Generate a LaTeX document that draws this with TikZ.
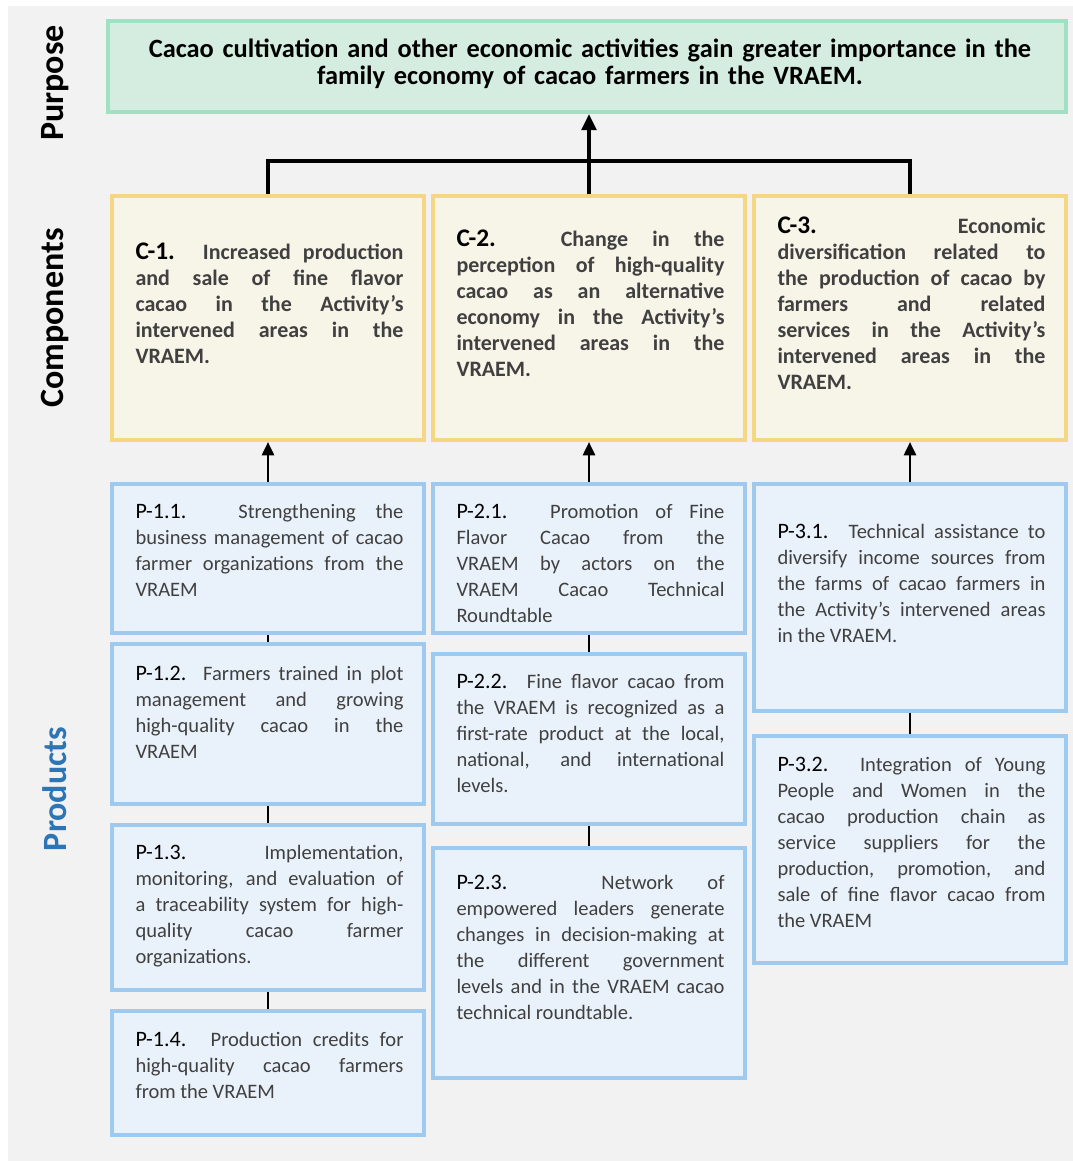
\documentclass[tikz,border=0pt]{standalone}
\usepackage{fontspec}
\setmainfont{Carlito}
\usepackage{tikz}
\usetikzlibrary{fit,arrows.meta}
\definecolor{bggray}{HTML}{F2F2F2}
\definecolor{purposefill}{HTML}{D5EDE0}
\definecolor{purposeline}{HTML}{A0E0C3}
\definecolor{compfill}{HTML}{F7F4E8}
\definecolor{compline}{HTML}{F5D783}
\definecolor{prodfill}{HTML}{E9F1FA}
\definecolor{prodline}{HTML}{9DCAEE}
\definecolor{bodygray}{HTML}{404040}
\definecolor{prodblue}{HTML}{2E75B6}
\tolerance=10000
\hyphenpenalty=10000
\newcommand{\tightspace}{\spaceskip=0.22em plus 0.8em minus 0.1em\relax}
\tikzset{every picture/.style={line width=0.75pt}}
\tikzset{
  purposebox/.style={draw=purposeline,fill=purposefill,line width=3pt,inner sep=0pt},
  compbox/.style={draw=compline,fill=compfill,line width=3pt,inner sep=0pt},
  prodbox/.style={draw=prodline,fill=prodfill,line width=3pt,inner sep=0pt},
  boxtext/.style={anchor=base west,inner sep=0pt,text width=201pt,align=justify,text=bodygray},
  comptext/.style={boxtext,font=\bfseries\fontsize{16.5}{19.5}\selectfont},
  prodtext/.style={boxtext,font=\fontsize{15.4}{19.5}\selectfont},
  sidelabel/.style={rotate=90,inner sep=0pt,font=\bfseries\fontsize{25.5}{30}\selectfont},
  link/.style={line width=2pt},
  uparrow/.style={line width=2pt,-{Triangle[length=10pt,width=9pt]}},
}
\newcommand{\clbl}[1]{\tightspace\textcolor{black}{\fontsize{19}{19.5}\selectfont #1}}
\newcommand{\plbl}[1]{\tightspace\textcolor{black}{\fontsize{16.5}{19.5}\selectfont #1}}

\begin{document}
\begin{tikzpicture}[x=0.75pt,y=0.75pt,yscale=-1,xscale=1]
\useasboundingbox (0,0) rectangle (1073,1161);
\fill [bggray] (8,6) rectangle (1073,1161);

% Side labels
\node [sidelabel] (lblpur) at (55,83) {Purpose};
\node [sidelabel] (lblcomp) at (55,318) {Components};
\node [sidelabel,text=prodblue] (lblprod) at (55,789) {Products};

%Shape: Rectangle (purpose)
\node [purposebox,fit={(108,21) (1066,112)}] (pur) {};
% Text Node
\node [anchor=base,inner sep=0pt,text width=700pt,align=center,font=\bfseries\fontsize{19.8}{20.25}\selectfont] (purtxt) at (590,57) {Cacao cultivation and other economic activities gain greater importance in the\\family economy of cacao farmers in the VRAEM.};

%Shape: Rectangle (components)
\node [compbox,fit={(112,196) (424,440)}] (c1) {};
\node [compbox,fit={(433,196) (745,440)}] (c2) {};
\node [compbox,fit={(754,196) (1066,440)}] (c3) {};
% Text Node
\node [comptext] (c1txt) at (135,259) {\clbl{C-1.} Increased production\linebreak and sale of fine flavor\linebreak cacao in the Activity’s\linebreak intervened areas in the\linebreak VRAEM.};
% Text Node
\node [comptext] (c2txt) at (456,246) {\clbl{C-2.} Change in the\linebreak perception of high-quality\linebreak cacao as an alternative\linebreak economy in the Activity’s\linebreak intervened areas in the\linebreak VRAEM.};
% Text Node
\node [comptext] (c3txt) at (777,233) {\clbl{C-3.} Economic\linebreak diversification related to\linebreak the production of cacao by\linebreak farmers and related\linebreak services in the Activity’s\linebreak intervened areas in the\linebreak VRAEM.};

%Shape: Rectangle (products, column 1)
\node [prodbox,fit={(112,484) (424,633)}] (p11) {};
\node [prodbox,fit={(112,644) (424,804)}] (p12) {};
\node [prodbox,fit={(112,825) (424,990)}] (p13) {};
\node [prodbox,fit={(112,1011) (424,1135)}] (p14) {};
%Shape: Rectangle (products, column 2)
\node [prodbox,fit={(433,484) (745,633)}] (p21) {};
\node [prodbox,fit={(433,654) (745,824)}] (p22) {};
\node [prodbox,fit={(433,848) (745,1078)}] (p23) {};
%Shape: Rectangle (products, column 3)
\node [prodbox,fit={(754,484) (1066,711)}] (p31) {};
\node [prodbox,fit={(754,736) (1066,963)}] (p32) {};

% Text Node
\node [prodtext] (p11txt) at (135,518) {\plbl{P-1.1.} Strengthening the\linebreak business management of cacao\linebreak farmer organizations from the\linebreak VRAEM};
% Text Node
\node [prodtext] (p12txt) at (135,680) {\plbl{P-1.2.} Farmers trained in plot\linebreak management and growing\linebreak high-quality cacao in the\linebreak VRAEM};
% Text Node
\node [prodtext] (p13txt) at (135,859) {\plbl{P-1.3.} Implementation,\linebreak monitoring, and evaluation of\linebreak a traceability system for high-\linebreak quality cacao farmer\linebreak organizations.};
% Text Node
\node [prodtext] (p14txt) at (135,1046) {\plbl{P-1.4.} Production credits for\linebreak high-quality cacao farmers\linebreak from the VRAEM};
% Text Node
\node [prodtext] (p21txt) at (456,518) {\plbl{P-2.1.} Promotion of Fine\linebreak Flavor Cacao from the\linebreak VRAEM by actors on the\linebreak VRAEM Cacao Technical\linebreak Roundtable};
% Text Node
\node [prodtext] (p22txt) at (456,688) {\plbl{P-2.2.} Fine flavor cacao from\linebreak the VRAEM is recognized as a\linebreak first-rate product at the local,\linebreak national, and international\linebreak levels.};
% Text Node
\node [prodtext] (p23txt) at (456,889) {\plbl{P-2.3.} Network of\linebreak empowered leaders generate\linebreak changes in decision-making at\linebreak the different government\linebreak levels and in the VRAEM cacao\linebreak technical roundtable.};
% Text Node
\node [prodtext] (p31txt) at (777,538) {\plbl{P-3.1.} Technical assistance to\linebreak diversify income sources from\linebreak the farms of cacao farmers in\linebreak the Activity’s intervened areas\linebreak in the VRAEM.};
% Text Node
\node [prodtext] (p32txt) at (777,771) {\plbl{P-3.2.} Integration of Young\linebreak People and Women in the\linebreak cacao production chain as\linebreak service suppliers for the\linebreak production, promotion, and\linebreak sale of fine flavor cacao from\linebreak the VRAEM};

%Straight Lines (components to purpose)
\coordinate (jn) at (589,161);
\draw [line width=2.5pt] (c1.north) |- (jn) -| (c3.north);
\draw [line width=2.5pt,-{Triangle[length=12pt,width=11pt]}] (c2.north) -- (c2.north |- pur.south);

%Straight Lines (products to components)
\draw [uparrow] (p11.north) -- (c1.south);
\draw [uparrow] (p21.north) -- (c2.south);
\draw [uparrow] (p31.north) -- (c3.south);
\draw [link] (p11.south) -- (p12.north);
\draw [link] (p12.south) -- (p13.north);
\draw [link] (p13.south) -- (p14.north);
\draw [link] (p21.south) -- (p22.north);
\draw [link] (p22.south) -- (p23.north);
\draw [link] (p31.south) -- (p32.north);

\end{tikzpicture}
\end{document}
